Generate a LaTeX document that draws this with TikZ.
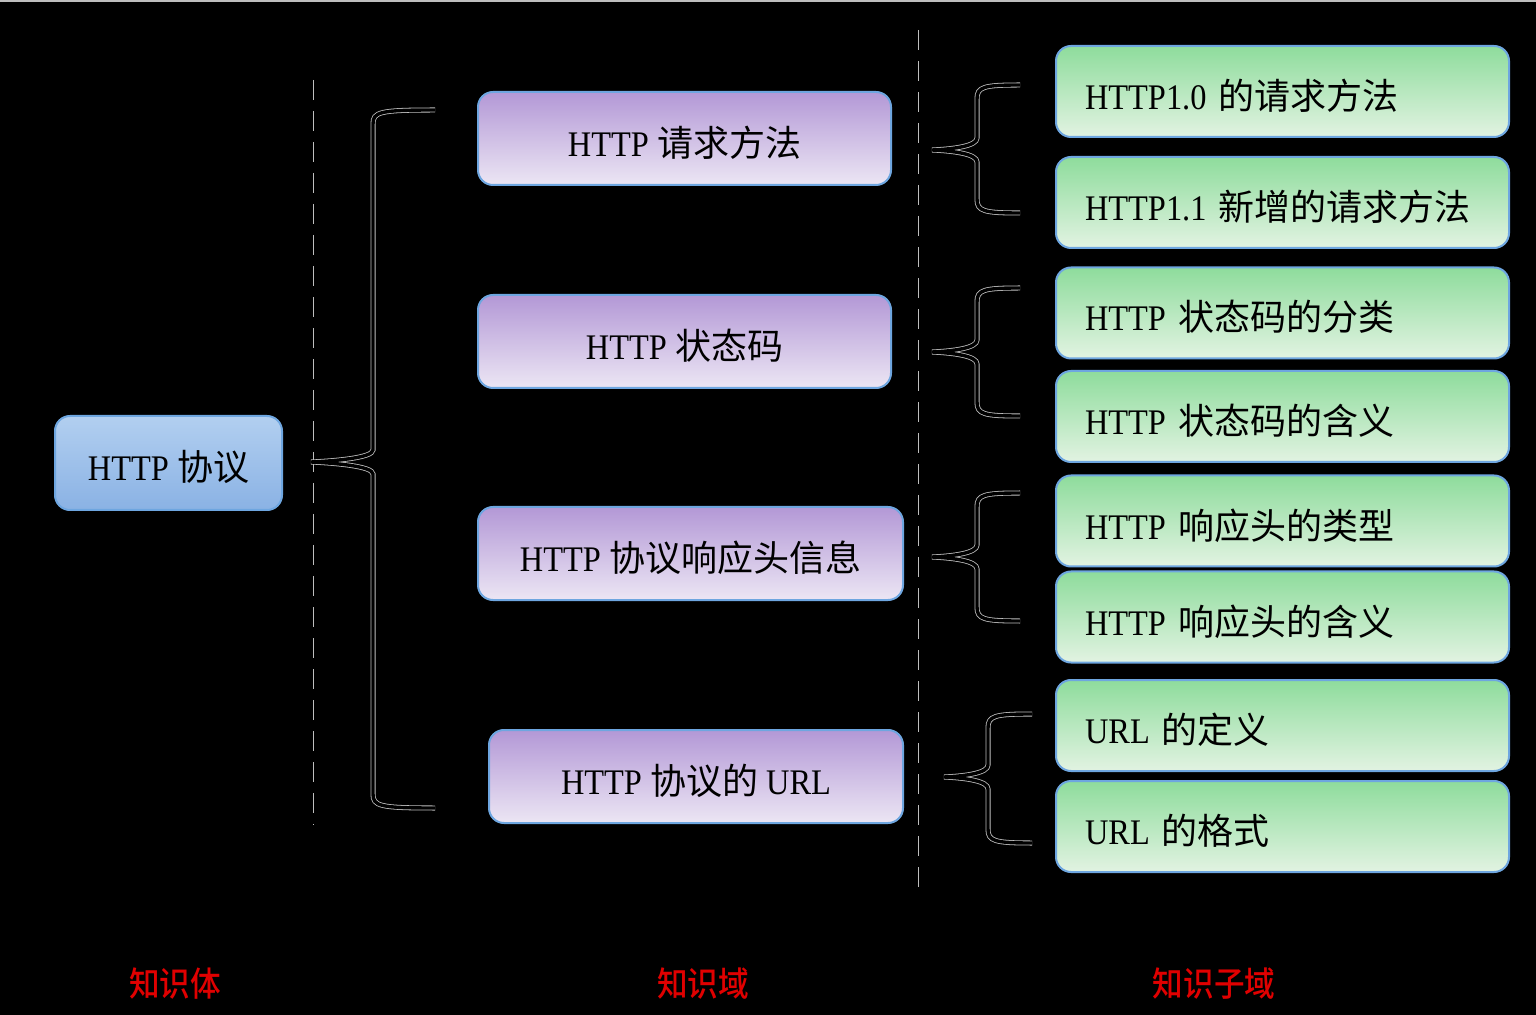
\documentclass[tikz,border=0pt]{standalone}
\usepackage{fontspec}
\setmainfont[FakeStretch=0.9]{Liberation Serif}
\newfontfamily\cjk{Noto Sans CJK SC}
\newfontfamily\cjklabel[FakeStretch=0.9]{Noto Sans CJK SC Medium}
\newcommand\zh[1]{{\cjk #1}}
\definecolor{bdr}{HTML}{6EA6E0}
\definecolor{blueT}{HTML}{B2CFF0}
\definecolor{blueB}{HTML}{8AB2E4}
\definecolor{purT}{HTML}{B398D6}
\definecolor{purB}{HTML}{ECE6F4}
\definecolor{grnT}{HTML}{8EDC9C}
\definecolor{grnB}{HTML}{E2F3E2}
\definecolor{redlbl}{HTML}{E00000}
\definecolor{halo}{HTML}{BEBEBE}
\newcommand\mybrace[7]{%
  \coordinate (#1) at (#2,#3);
  \draw[ink] ({#6},{#4}) .. controls ({#5+6},{#4}) and ({#5},{#4+2}) .. ({#5},{#4+14})
    -- ({#5},{#3-12}) .. controls ({#5},{#3-4}) and ({#2+22},{#3-1}) .. (#1)
    .. controls ({#2+22},{#3+1}) and ({#5},{#3+4}) .. ({#5},{#3+12})
    -- ({#5},{#7-14}) .. controls ({#5},{#7-2}) and ({#5+6},{#7}) .. ({#6},{#7});
}
\begin{document}
\begin{tikzpicture}[x=0.5pt,y=-0.5pt,
  ink/.style={draw=halo, double=black, double distance=1.7pt, line width=0.4pt},
  dashline/.style={ink, dash pattern=on 10pt off 5.5pt},
  box/.style={rounded corners=7.5pt, draw=bdr, line width=1pt,
    font=\fontsize{18pt}{20pt}\selectfont, text height=18pt, text depth=0pt, inner sep=0pt},
  bluebox/.style={box, top color=blueT, bottom color=blueB, minimum width=113.5pt, minimum height=47pt},
  purbox/.style={box, top color=purT, bottom color=purB, minimum height=46.5pt},
  grnbox/.style={box, top color=grnT, bottom color=grnB, minimum height=45.5pt,
    text width=197.5pt, align=left, inner xsep=14.5pt},
  redlabel/.style={text=redlbl, font=\cjklabel\fontsize{17pt}{19pt}\selectfont, anchor=base, inner sep=0pt}
]
\useasboundingbox (0,0) rectangle (1536,1015);
\fill[black] (0,0) rectangle (1536,1015);
\fill[halo] (0,0) rectangle (1536,2);

% dashed separators
\coordinate (l1a) at (311,80);
\coordinate (l1b) at (311,825);
\coordinate (l2a) at (916,30);
\coordinate (l2b) at (916,890);
\draw[dashline] (l1a) -- (l1b);
\draw[dashline] (l2a) -- (l2b);

% root
\node[bluebox] (root) at (168.5,463) {HTTP \zh{协议}};

% domains
\node[purbox, minimum width=206.5pt] (d1) at (684.5,138.5) {HTTP \zh{请求方法}};
\node[purbox, minimum width=206.5pt] (d2) at (684.5,341.5) {HTTP \zh{状态码}};
\node[purbox, minimum width=212.5pt] (d3) at (690.5,553.5) {HTTP \zh{协议响应头信息}};
\node[purbox, minimum width=207pt] (d4) at (696,776.5) {HTTP \zh{协议的} URL};

% sub-domains
\node[grnbox] (s1) at (1282.5,91.5) {HTTP1.0 \zh{的请求方法}};
\node[grnbox] (s2) at (1282.5,202.5) {HTTP1.1 \zh{新增的请求方法}};
\node[grnbox] (s3) at (1282.5,313) {HTTP \zh{状态码的分类}};
\node[grnbox] (s4) at (1282.5,416.5) {HTTP \zh{状态码的含义}};
\node[grnbox] (s5) at (1282.5,521) {HTTP \zh{响应头的类型}};
\node[grnbox] (s6) at (1282.5,617) {HTTP \zh{响应头的含义}};
\node[grnbox] (s7) at (1282.5,725.5) {URL \zh{的定义}};
\node[grnbox] (s8) at (1282.5,826.5) {URL \zh{的格式}};

% braces
\mybrace{b0}{311}{462}{110}{373}{435}{808}
\mybrace{b1}{932}{150}{85}{977}{1020}{213}
\mybrace{b2}{932}{352}{288}{977}{1020}{416}
\mybrace{b3}{932}{557}{493}{977}{1020}{621}
\mybrace{b4}{944}{777}{714}{988}{1032}{843}

% column labels
\node[redlabel] (c1) at (175,996) {知识体};
\node[redlabel] (c2) at (703,996) {知识域};
\node[redlabel] (c3) at (1214,996) {知识子域};
\end{tikzpicture}
\end{document}
